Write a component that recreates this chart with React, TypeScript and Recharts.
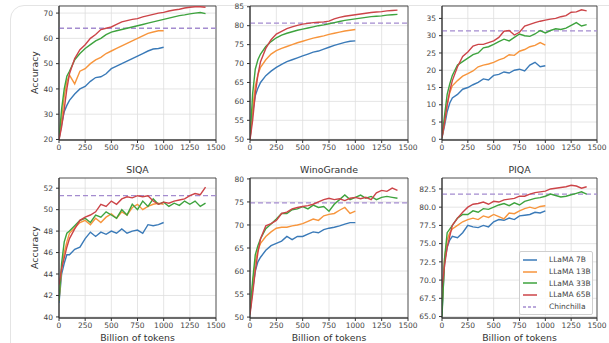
import {
  CartesianGrid,
  Line,
  LineChart,
  ReferenceArea,
  ReferenceLine,
  XAxis,
  YAxis,
} from "recharts";

// billions of tokens seen, shared by every curve
const tokens = [
  0, 25, 50, 75, 100, 150, 200, 250, 300, 350, 400, 450, 500, 550, 600, 650,
  700, 750, 800, 850, 900, 950, 1000, 1050, 1100, 1150, 1200, 1250, 1300, 1350,
  1400,
];
const xTicks = [0, 250, 500, 750, 1000, 1250, 1500];
const seriesNames = ["LLaMA 7B", "LLaMA 13B", "LLaMA 33B", "LLaMA 65B"];
const chinchillaName = "Chinchilla";

// top left
const triviaQa7B = [20, 26, 31, 33.5, 35.5, 38, 40, 41, 43, 44.5, 44.8, 46, 48, 49, 50, 51, 52, 53, 54, 55, 55.8, 56, 56.5];
const triviaQa13B = [20, 28, 37, 43, 45.5, 42, 47, 48, 50, 51.5, 52.5, 54, 55, 56, 57, 58, 59, 60, 61, 62, 62.5, 63, 63];
const triviaQa33B = [20, 32, 40, 45, 47, 51.5, 54, 56, 57.5, 59, 60, 61.5, 62.5, 63, 63.5, 64, 64.5, 65, 65.5, 66, 66.5, 67, 67.5, 68, 68.5, 69, 69.3, 69.7, 70, 70.2, 69.8];
const triviaQa65B = [19.8, 25, 32, 40, 46, 52, 55.5, 57.5, 60, 61.5, 63.5, 64, 64.5, 65.5, 66.5, 67, 67.5, 67.8, 68.5, 69, 69.5, 70, 70.3, 70.8, 71.2, 71.5, 72, 72.3, 72.5, 72.5, 72.3];

// top middle
const hellaSwag7B = [50, 57, 61.5, 63.5, 65, 66.8, 68, 69, 69.8, 70.5, 71, 71.5, 72, 72.5, 73, 73.3, 73.8, 74.3, 74.8, 75.2, 75.6, 75.9, 76];
const hellaSwag13B = [50, 58, 64, 67, 69, 71, 72.5, 73.4, 74, 74.5, 75, 75.5, 75.9, 76.3, 76.7, 77, 77.3, 77.7, 78, 78.3, 78.6, 78.8, 79];
const hellaSwag33B = [50, 62, 68.5, 71, 72.5, 74.5, 75.8, 76.8, 77.5, 78, 78.4, 78.8, 79.1, 79.4, 79.7, 80, 80.2, 80.5, 80.8, 81.1, 81.4, 81.6, 81.8, 82, 82.2, 82.4, 82.5, 82.6, 82.8, 82.9, 83];
const hellaSwag65B = [49.8, 55, 62, 67, 70.5, 74, 76.3, 77.8, 78.5, 79.2, 79.7, 80.1, 80.4, 80.6, 80.8, 80.9, 81, 81.2, 81.8, 82.2, 82.5, 82.7, 82.9, 83.1, 83.3, 83.5, 83.6, 83.7, 83.9, 84, 84.1];

// top right
const nq7B = [0.5, 4, 8, 10.5, 12, 13, 14.5, 15, 15.8, 16.5, 17.5, 17.2, 18.5, 18.8, 19.5, 19.2, 20, 20.3, 19.8, 21.5, 22.3, 21, 21.3];
const nq13B = [0.5, 5, 10, 13.5, 15.5, 17, 18.3, 19, 19.8, 21, 21.5, 21.8, 22.3, 23, 23.5, 24.5, 24.3, 25.5, 26, 26.8, 27.2, 28, 27.3];
const nq33B = [0.5, 7, 13, 16, 18.5, 21.5, 22.5, 23.5, 24.5, 25, 26.5, 26.8, 27.5, 28.3, 29, 28.5, 29.5, 30.5, 30, 29.8, 30.5, 31.5, 30.8, 31.5, 32, 31.8, 32.2, 33, 33.8, 32.8, 33.2];
const nq65B = [0.5, 5, 10, 14, 17, 21, 24, 25.3, 27, 27.5, 27.5, 28, 28.5, 29.5, 31.3, 31.5, 30.2, 31, 32.8, 33.3, 33.8, 34.2, 34.5, 34.8, 35, 35.5, 35.8, 36.8, 36.9, 37.5, 37.2];

// SIQA
const siqa7B = [41.3, 44, 45, 45.8, 45.8, 46.3, 46.5, 47.3, 47.9, 47.5, 47.9, 47.7, 48, 47.8, 48.2, 47.8, 48, 48.1, 47.8, 48.6, 48.5, 48.6, 48.8];
const siqa13B = [41.5, 44.5, 46, 47, 47.8, 48.3, 48.8, 49, 48.6, 49.2, 48.8, 49.3, 49.6, 49.2, 49.8, 49.5, 50.2, 50.5, 50, 50.3, 50.5, 50.6, 50.5];
const siqa33B = [41.5, 45, 47, 47.8, 48, 48.5, 49, 49.2, 48.8, 49.5, 49.3, 49.8, 49.5, 49.2, 50, 49.5, 50.5, 50, 50.8, 50.3, 51, 50.5, 50.7, 50.3, 50.6, 50.4, 50.8, 50.5, 50.8, 50.3, 50.6];
const siqa65B = [43, 44.5, 45.5, 46.5, 47.3, 48.2, 49, 49.3, 49.5, 49.8, 50.5, 50.3, 50.8, 50.5, 51, 51.2, 51.1, 51.3, 51.2, 51.3, 50.8, 50.5, 50.7, 50.6, 50.8, 50.9, 51, 51.3, 51.5, 51.4, 52.1];

// WinoGrande
const wino7B = [51, 56, 60, 62, 63, 64.5, 65.5, 66, 66.5, 67.5, 66.8, 67.5, 67.5, 68, 68.5, 68.3, 69, 69.3, 69.5, 69.8, 70.2, 70.5, 70.5];
const wino13B = [51, 57, 62, 64.5, 66, 67.5, 68.5, 69.3, 69.5, 69.5, 69.8, 70, 70.3, 70.8, 71.3, 71, 72, 72.3, 72.5, 73.2, 73.8, 72.5, 73];
const wino33B = [51, 58, 63.5, 65.5, 67, 69.2, 70.2, 71.3, 72.5, 72.5, 73.3, 73.5, 74, 73.5, 74.3, 73.8, 74, 73, 74.5, 75.5, 76.5, 75.5, 76, 76.5, 75.8, 76.2, 75.5, 76, 76.2, 76, 75.8];
const wino65B = [50.5, 55, 60, 64, 67, 69.8, 70.3, 71, 72.5, 72.8, 73.5, 73.8, 74, 74.2, 74.5, 75, 75.5, 75.8, 75.5, 75.7, 75.3, 75.8, 76, 75.7, 76, 75.5, 77, 77.5, 77.3, 78, 77.5];

// PIQA
const piqa7B = [65.5, 72.5, 74.5, 75.5, 76, 75.8, 76.5, 77.5, 77.3, 77.2, 77.5, 77.3, 78, 78.3, 78.2, 78.5, 78.3, 78.8, 78.9, 79, 79.3, 79.2, 79.5];
const piqa13B = [66, 73, 75.5, 76.5, 77, 77.5, 78, 78.3, 78.5, 78.3, 78.8, 78.6, 79, 78.7, 78.4, 79.2, 79.1, 79.5, 79.8, 80, 79.8, 80.1, 80.2];
const piqa33B = [65, 73, 76.5, 77, 77.5, 78.5, 79, 79, 79.5, 79.3, 79.8, 79.7, 80, 80.3, 80.5, 80.2, 80.6, 80.3, 80.8, 81, 81.2, 81.3, 81.5, 81.8, 81.6, 81.4, 81.5, 81.7, 81.9, 82.1, 81.8];
const piqa65B = [69, 72, 74.5, 76, 77.5, 78.5, 79.3, 80, 80.4, 80.5, 80.7, 80.4, 80.8, 80.7, 81, 81.1, 81.2, 81.5, 81.5, 81.8, 82, 82.1, 82.2, 82.5, 82.6, 82.7, 82.8, 83, 82.9, 82.6, 82.8];

const chinchillaScores = [64, 80.7, 31.4, 51.3, 74.8, 81.8];

const colors = ["#3a7ab8", "#f7953c", "#3ea33e", "#cc4448"];
const chinColor = "#a48ccf";
const keys = ["b7", "b13", "b33", "b65"];
const font = "DejaVu Sans";

const panels = [
  { title: "", left: 59, top: 6, w: 157, h: 134, domain: [19.8, 72.8], ticks: [20, 30, 40, 50, 60, 70], series: [triviaQa7B, triviaQa13B, triviaQa33B, triviaQa65B], yLabel: true, xLabel: false },
  { title: "", left: 250, top: 6, w: 158, h: 134, domain: [49.8, 85.2], ticks: [50, 55, 60, 65, 70, 75, 80, 85], series: [hellaSwag7B, hellaSwag13B, hellaSwag33B, hellaSwag65B], yLabel: false, xLabel: false },
  { title: "", left: 442, top: 6, w: 155, h: 134, domain: [-0.2, 38.6], ticks: [0, 5, 10, 15, 20, 25, 30, 35], series: [nq7B, nq13B, nq33B, nq65B], yLabel: false, xLabel: false },
  { title: "SIQA", left: 59, top: 178, w: 157, h: 140, domain: [39.9, 52.95], ticks: [40, 42, 44, 46, 48, 50, 52], series: [siqa7B, siqa13B, siqa33B, siqa65B], yLabel: true, xLabel: true },
  { title: "WinoGrande", left: 250, top: 178, w: 158, h: 140, domain: [49.8, 80.2], ticks: [50, 55, 60, 65, 70, 75, 80], series: [wino7B, wino13B, wino33B, wino65B], yLabel: false, xLabel: true },
  { title: "PIQA", left: 442, top: 178, w: 155, h: 140, domain: [64.8, 84], ticks: [65, 67.5, 70, 72.5, 75, 77.5, 80, 82.5], series: [piqa7B, piqa13B, piqa33B, piqa65B], yLabel: false, xLabel: true, fixed: true },
];

const tickStyle = { fontSize: 7.5, fill: "#444", fontFamily: font };

function Panel({ p, idx }: { p: any; idx: number }) {
  const rows = tokens.map((x, i) => ({
    x,
    b7: p.series[0][i],
    b13: p.series[1][i],
    b33: p.series[2][i],
    b65: p.series[3][i],
  }));
  return (
    <>
      <div style={{ position: "absolute", left: p.left - 40, top: p.top - 5 }}>
        <LineChart
          width={p.w + 54}
          height={p.h + 27}
          data={rows}
          margin={{ top: 5, right: 14, bottom: 0, left: 0 }}
        >
          <CartesianGrid stroke="#dedede" strokeWidth={0.8} />
          <XAxis
            type="number"
            dataKey="x"
            domain={[0, 1500]}
            ticks={xTicks}
            interval={0}
            allowDataOverflow
            height={22}
            tick={tickStyle}
            tickSize={3}
            tickMargin={2}
            axisLine={{ stroke: "#333" }}
            tickLine={{ stroke: "#333" }}
          />
          <YAxis
            type="number"
            domain={p.domain}
            ticks={p.ticks}
            interval={0}
            allowDataOverflow
            width={40}
            tick={tickStyle}
            tickSize={3}
            tickMargin={3}
            tickFormatter={(v: number) => (p.fixed ? v.toFixed(1) : String(v))}
            axisLine={{ stroke: "#333" }}
            tickLine={{ stroke: "#333" }}
          />
          <ReferenceArea
            x1={0}
            x2={1500}
            y1={p.domain[0]}
            y2={p.domain[1]}
            fill="none"
            stroke="#333"
            strokeWidth={0.8}
          />
          <ReferenceLine
            y={chinchillaScores[idx]}
            stroke={chinColor}
            strokeDasharray="5 3"
            strokeWidth={1.3}
          />
          {keys.map((k, i) => (
            <Line
              key={k}
              dataKey={k}
              name={seriesNames[i]}
              stroke={colors[i]}
              strokeWidth={1.4}
              dot={false}
              type="linear"
              isAnimationActive={false}
            />
          ))}
        </LineChart>
      </div>
      {p.title && (
        <div
          style={{
            position: "absolute",
            left: p.left,
            width: p.w,
            top: p.top - 14,
            textAlign: "center",
            fontSize: 9.4,
            color: "#333",
            fontFamily: font,
          }}
        >
          {p.title}
        </div>
      )}
      {p.xLabel && (
        <div
          style={{
            position: "absolute",
            left: p.left,
            width: p.w,
            top: p.top + p.h + 14,
            textAlign: "center",
            fontSize: 9.4,
            color: "#333",
            fontFamily: font,
          }}
        >
          Billion of tokens
        </div>
      )}
      {p.yLabel && (
        <div
          style={{
            position: "absolute",
            left: 34 - 40,
            width: 80,
            top: p.top + p.h / 2 - 6,
            textAlign: "center",
            fontSize: 9.4,
            color: "#333",
            fontFamily: font,
            transform: "rotate(-90deg)",
          }}
        >
          Accuracy
        </div>
      )}
    </>
  );
}

export default function App() {
  const legendItems = [
    ...seriesNames.map((n, i) => ({ name: n, color: colors[i], dash: false })),
    { name: chinchillaName, color: chinColor, dash: true },
  ];
  return (
    <div
      style={{
        position: "absolute",
        left: 0,
        top: 0,
        width: 609,
        height: 343,
        overflow: "hidden",
        background: "#fff",
      }}
    >
      <div
        style={{
          position: "absolute",
          left: 10,
          top: 5,
          width: 700,
          height: 400,
          border: "1px solid #e4e4e4",
          borderRadius: 14,
        }}
      />
      {panels.map((p, i) => (
        <Panel key={i} p={p} idx={i} />
      ))}
      <div
        style={{
          position: "absolute",
          left: 519,
          top: 251,
          width: 72,
          padding: "2px 0",
          background: "rgba(255,255,255,0.85)",
          border: "1px solid #cfcfcf",
          borderRadius: 2,
          fontFamily: font,
          fontSize: 7.5,
          color: "#444",
        }}
      >
        {legendItems.map((it) => (
          <div
            key={it.name}
            style={{ display: "flex", alignItems: "center", height: 11.7 }}
          >
            <svg width={26} height={6} style={{ marginLeft: 3 }}>
              <line
                x1={0}
                x2={14}
                y1={3}
                y2={3}
                stroke={it.color}
                strokeWidth={1.5}
                strokeDasharray={it.dash ? "3 2" : undefined}
              />
            </svg>
            <span>{it.name}</span>
          </div>
        ))}
      </div>
    </div>
  );
}
